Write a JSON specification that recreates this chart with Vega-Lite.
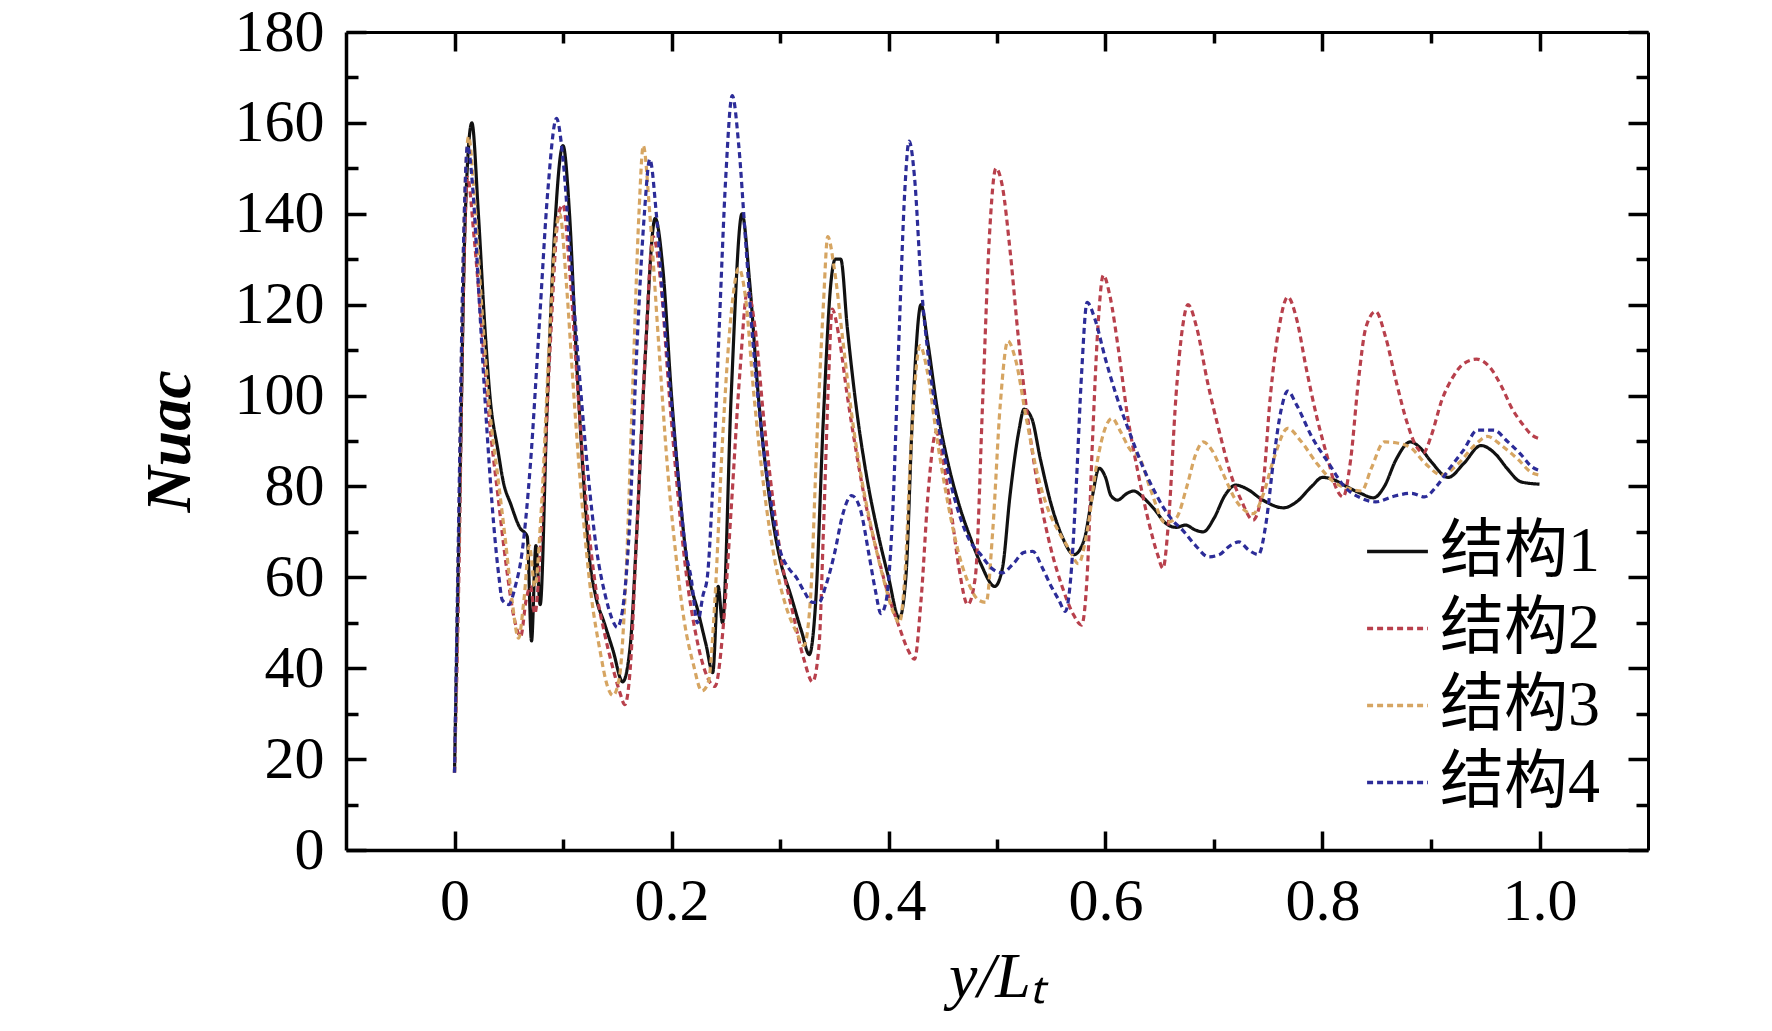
{
  "$schema": "https://vega.github.io/schema/vega-lite/v6.json",
  "autosize": {"type": "none"},
  "padding": {"left": 346, "top": 32, "right": 124, "bottom": 181},
  "width": 1302,
  "height": 818,
  "background": "white",
  "config": {
    "view": {"stroke": null},
    "font": "Liberation Serif",
    "axis": {
      "grid": false,
      "domain": true,
      "domainColor": "black",
      "domainWidth": 3.5,
      "tickColor": "black",
      "tickWidth": 3.5,
      "labelColor": "black",
      "labelFont": "Liberation Serif",
      "labelFontSize": 60,
      "titleColor": "black",
      "titleFont": "Liberation Serif",
      "titleFontSize": 64
    },
    "legend": {
      "orient": "none",
      "legendX": 1019,
      "legendY": 487,
      "symbolType": "stroke",
      "symbolSize": 3700,
      "symbolStrokeWidth": 3.5,
      "labelFont": "Liberation Serif, Noto Sans CJK SC",
      "labelFontSize": 64,
      "labelColor": "black",
      "labelOffset": 10,
      "rowPadding": 12,
      "padding": 0
    }
  },
  "data": {
    "values": [
      {"s":"结构1","x":0,"y":17},{"s":"结构1","x":0.005,"y":80},{"s":"结构1","x":0.01,"y":140},{"s":"结构1","x":0.016,"y":160},{"s":"结构1","x":0.022,"y":140},{"s":"结构1","x":0.028,"y":115},{"s":"结构1","x":0.033,"y":99},{"s":"结构1","x":0.04,"y":88},{"s":"结构1","x":0.045,"y":81},{"s":"结构1","x":0.052,"y":76},{"s":"结构1","x":0.06,"y":71},{"s":"结构1","x":0.067,"y":69},{"s":"结构1","x":0.071,"y":46},{"s":"结构1","x":0.075,"y":67},{"s":"结构1","x":0.079,"y":54},{"s":"结构1","x":0.085,"y":95},{"s":"结构1","x":0.092,"y":135},{"s":"结构1","x":0.1,"y":155},{"s":"结构1","x":0.106,"y":140},{"s":"结构1","x":0.112,"y":110},{"s":"结构1","x":0.118,"y":85},{"s":"结构1","x":0.124,"y":65},{"s":"结构1","x":0.13,"y":56},{"s":"结构1","x":0.138,"y":50},{"s":"结构1","x":0.146,"y":44},{"s":"结构1","x":0.155,"y":37},{"s":"结构1","x":0.162,"y":45},{"s":"结构1","x":0.168,"y":70},{"s":"结构1","x":0.175,"y":105},{"s":"结构1","x":0.185,"y":139},{"s":"结构1","x":0.192,"y":128},{"s":"结构1","x":0.2,"y":100},{"s":"结构1","x":0.207,"y":80},{"s":"结构1","x":0.215,"y":62},{"s":"结构1","x":0.225,"y":52},{"s":"结构1","x":0.232,"y":45},{"s":"结构1","x":0.238,"y":39},{"s":"结构1","x":0.243,"y":58},{"s":"结构1","x":0.247,"y":50},{"s":"结构1","x":0.255,"y":100},{"s":"结构1","x":0.265,"y":140},{"s":"结构1","x":0.272,"y":125},{"s":"结构1","x":0.28,"y":100},{"s":"结构1","x":0.29,"y":78},{"s":"结构1","x":0.3,"y":64},{"s":"结构1","x":0.31,"y":56},{"s":"结构1","x":0.32,"y":48},{"s":"结构1","x":0.327,"y":43},{"s":"结构1","x":0.333,"y":55},{"s":"结构1","x":0.34,"y":95},{"s":"结构1","x":0.347,"y":125},{"s":"结构1","x":0.351,"y":130},{"s":"结构1","x":0.356,"y":130},{"s":"结构1","x":0.362,"y":115},{"s":"结构1","x":0.37,"y":98},{"s":"结构1","x":0.38,"y":82},{"s":"结构1","x":0.39,"y":70},{"s":"结构1","x":0.4,"y":60},{"s":"结构1","x":0.41,"y":51},{"s":"结构1","x":0.416,"y":60},{"s":"结构1","x":0.422,"y":95},{"s":"结构1","x":0.43,"y":120},{"s":"结构1","x":0.436,"y":112},{"s":"结构1","x":0.445,"y":97},{"s":"结构1","x":0.455,"y":85},{"s":"结构1","x":0.465,"y":76},{"s":"结构1","x":0.475,"y":69},{"s":"结构1","x":0.485,"y":63},{"s":"结构1","x":0.498,"y":58},{"s":"结构1","x":0.505,"y":62},{"s":"结构1","x":0.512,"y":78},{"s":"结构1","x":0.52,"y":92},{"s":"结构1","x":0.525,"y":97},{"s":"结构1","x":0.532,"y":95},{"s":"结构1","x":0.54,"y":86},{"s":"结构1","x":0.55,"y":76},{"s":"结构1","x":0.56,"y":69},{"s":"结构1","x":0.571,"y":65},{"s":"结构1","x":0.58,"y":68},{"s":"结构1","x":0.588,"y":78},{"s":"结构1","x":0.594,"y":84},{"s":"结构1","x":0.6,"y":82},{"s":"结构1","x":0.605,"y":78},{"s":"结构1","x":0.611,"y":77},{"s":"结构1","x":0.62,"y":78.5},{"s":"结构1","x":0.626,"y":79},{"s":"结构1","x":0.635,"y":77.5},{"s":"结构1","x":0.645,"y":75},{"s":"结构1","x":0.655,"y":72},{"s":"结构1","x":0.665,"y":71},{"s":"结构1","x":0.674,"y":71.5},{"s":"结构1","x":0.682,"y":70.5},{"s":"结构1","x":0.69,"y":70},{"s":"结构1","x":0.7,"y":73},{"s":"结构1","x":0.71,"y":78},{"s":"结构1","x":0.72,"y":80.3},{"s":"结构1","x":0.73,"y":79.5},{"s":"结构1","x":0.745,"y":77},{"s":"结构1","x":0.764,"y":75.3},{"s":"结构1","x":0.776,"y":76.6},{"s":"结构1","x":0.79,"y":80},{"s":"结构1","x":0.8,"y":82},{"s":"结构1","x":0.81,"y":81.5},{"s":"结构1","x":0.822,"y":80},{"s":"结构1","x":0.835,"y":78.5},{"s":"结构1","x":0.847,"y":77.5},{"s":"结构1","x":0.857,"y":80},{"s":"结构1","x":0.868,"y":86},{"s":"结构1","x":0.881,"y":89.8},{"s":"结构1","x":0.89,"y":88.5},{"s":"结构1","x":0.9,"y":85.5},{"s":"结构1","x":0.916,"y":82},{"s":"结构1","x":0.93,"y":85},{"s":"结构1","x":0.946,"y":89},{"s":"结构1","x":0.96,"y":87},{"s":"结构1","x":0.97,"y":84},{"s":"结构1","x":0.983,"y":81},{"s":"结构1","x":1.0,"y":80.5},

      {"s":"结构2","x":0,"y":17},{"s":"结构2","x":0.004,"y":60},{"s":"结构2","x":0.008,"y":120},{"s":"结构2","x":0.012,"y":148},{"s":"结构2","x":0.018,"y":135},{"s":"结构2","x":0.025,"y":115},{"s":"结构2","x":0.032,"y":95},{"s":"结构2","x":0.04,"y":78},{"s":"结构2","x":0.048,"y":62},{"s":"结构2","x":0.055,"y":51},{"s":"结构2","x":0.061,"y":47},{"s":"结构2","x":0.066,"y":55},{"s":"结构2","x":0.07,"y":58},{"s":"结构2","x":0.074,"y":52},{"s":"结构2","x":0.08,"y":70},{"s":"结构2","x":0.088,"y":110},{"s":"结构2","x":0.096,"y":140},{"s":"结构2","x":0.1,"y":142},{"s":"结构2","x":0.106,"y":128},{"s":"结构2","x":0.114,"y":100},{"s":"结构2","x":0.122,"y":75},{"s":"结构2","x":0.13,"y":58},{"s":"结构2","x":0.138,"y":48},{"s":"结构2","x":0.146,"y":40},{"s":"结构2","x":0.152,"y":35},{"s":"结构2","x":0.157,"y":32},{"s":"结构2","x":0.162,"y":40},{"s":"结构2","x":0.168,"y":70},{"s":"结构2","x":0.176,"y":110},{"s":"结构2","x":0.183,"y":135},{"s":"结构2","x":0.19,"y":125},{"s":"结构2","x":0.198,"y":100},{"s":"结构2","x":0.206,"y":78},{"s":"结构2","x":0.214,"y":60},{"s":"结构2","x":0.222,"y":48},{"s":"结构2","x":0.23,"y":40},{"s":"结构2","x":0.24,"y":36},{"s":"结构2","x":0.248,"y":50},{"s":"结构2","x":0.255,"y":75},{"s":"结构2","x":0.263,"y":105},{"s":"结构2","x":0.27,"y":123},{"s":"结构2","x":0.277,"y":115},{"s":"结构2","x":0.285,"y":95},{"s":"结构2","x":0.293,"y":78},{"s":"结构2","x":0.302,"y":63},{"s":"结构2","x":0.312,"y":52},{"s":"结构2","x":0.322,"y":42},{"s":"结构2","x":0.33,"y":37},{"s":"结构2","x":0.336,"y":45},{"s":"结构2","x":0.34,"y":70},{"s":"结构2","x":0.345,"y":105},{"s":"结构2","x":0.348,"y":119},{"s":"结构2","x":0.355,"y":112},{"s":"结构2","x":0.362,"y":100},{"s":"结构2","x":0.37,"y":88},{"s":"结构2","x":0.38,"y":75},{"s":"结构2","x":0.39,"y":65},{"s":"结构2","x":0.4,"y":56},{"s":"结构2","x":0.41,"y":49},{"s":"结构2","x":0.418,"y":44},{"s":"结构2","x":0.424,"y":42},{"s":"结构2","x":0.43,"y":55},{"s":"结构2","x":0.437,"y":80},{"s":"结构2","x":0.444,"y":92},{"s":"结构2","x":0.45,"y":86},{"s":"结构2","x":0.458,"y":74},{"s":"结构2","x":0.465,"y":62},{"s":"结构2","x":0.473,"y":54},{"s":"结构2","x":0.48,"y":60},{"s":"结构2","x":0.487,"y":100},{"s":"结构2","x":0.493,"y":135},{"s":"结构2","x":0.499,"y":150},{"s":"结构2","x":0.505,"y":146},{"s":"结构2","x":0.512,"y":132},{"s":"结构2","x":0.52,"y":112},{"s":"结构2","x":0.53,"y":92},{"s":"结构2","x":0.54,"y":77},{"s":"结构2","x":0.55,"y":66},{"s":"结构2","x":0.56,"y":58},{"s":"结构2","x":0.57,"y":52},{"s":"结构2","x":0.578,"y":49.5},{"s":"结构2","x":0.583,"y":60},{"s":"结构2","x":0.588,"y":90},{"s":"结构2","x":0.593,"y":115},{"s":"结构2","x":0.598,"y":126.5},{"s":"结构2","x":0.604,"y":122},{"s":"结构2","x":0.612,"y":110},{"s":"结构2","x":0.62,"y":96},{"s":"结构2","x":0.63,"y":83},{"s":"结构2","x":0.64,"y":72},{"s":"结构2","x":0.648,"y":65},{"s":"结构2","x":0.653,"y":62},{"s":"结构2","x":0.658,"y":72},{"s":"结构2","x":0.665,"y":100},{"s":"结构2","x":0.671,"y":115},{"s":"结构2","x":0.676,"y":120},{"s":"结构2","x":0.684,"y":115},{"s":"结构2","x":0.694,"y":103},{"s":"结构2","x":0.705,"y":92},{"s":"结构2","x":0.715,"y":83},{"s":"结构2","x":0.725,"y":77},{"s":"结构2","x":0.736,"y":72.6},{"s":"结构2","x":0.745,"y":80},{"s":"结构2","x":0.752,"y":100},{"s":"结构2","x":0.76,"y":115},{"s":"结构2","x":0.768,"y":121.7},{"s":"结构2","x":0.776,"y":117},{"s":"结构2","x":0.785,"y":106},{"s":"结构2","x":0.795,"y":95},{"s":"结构2","x":0.805,"y":86},{"s":"结构2","x":0.812,"y":80},{"s":"结构2","x":0.819,"y":77.7},{"s":"结构2","x":0.826,"y":86},{"s":"结构2","x":0.833,"y":103},{"s":"结构2","x":0.84,"y":115},{"s":"结构2","x":0.849,"y":118.5},{"s":"结构2","x":0.858,"y":113},{"s":"结构2","x":0.868,"y":103},{"s":"结构2","x":0.878,"y":94},{"s":"结构2","x":0.886,"y":89},{"s":"结构2","x":0.893,"y":87.4},{"s":"结构2","x":0.9,"y":91},{"s":"结构2","x":0.91,"y":99},{"s":"结构2","x":0.92,"y":104},{"s":"结构2","x":0.93,"y":107},{"s":"结构2","x":0.942,"y":108},{"s":"结构2","x":0.955,"y":106},{"s":"结构2","x":0.965,"y":102},{"s":"结构2","x":0.975,"y":97},{"s":"结构2","x":0.985,"y":93.5},{"s":"结构2","x":0.993,"y":91.3},{"s":"结构2","x":1.0,"y":90.5},

      {"s":"结构3","x":0,"y":17},{"s":"结构3","x":0.004,"y":70},{"s":"结构3","x":0.008,"y":130},{"s":"结构3","x":0.013,"y":157},{"s":"结构3","x":0.018,"y":145},{"s":"结构3","x":0.025,"y":120},{"s":"结构3","x":0.032,"y":98},{"s":"结构3","x":0.04,"y":82},{"s":"结构3","x":0.047,"y":68},{"s":"结构3","x":0.053,"y":55},{"s":"结构3","x":0.059,"y":46.6},{"s":"结构3","x":0.064,"y":55},{"s":"结构3","x":0.069,"y":67},{"s":"结构3","x":0.074,"y":58},{"s":"结构3","x":0.08,"y":75},{"s":"结构3","x":0.087,"y":110},{"s":"结构3","x":0.093,"y":135},{"s":"结构3","x":0.097,"y":140},{"s":"结构3","x":0.103,"y":125},{"s":"结构3","x":0.11,"y":100},{"s":"结构3","x":0.118,"y":75},{"s":"结构3","x":0.126,"y":56},{"s":"结构3","x":0.134,"y":44},{"s":"结构3","x":0.141,"y":36},{"s":"结构3","x":0.146,"y":34},{"s":"结构3","x":0.152,"y":38},{"s":"结构3","x":0.158,"y":60},{"s":"结构3","x":0.164,"y":100},{"s":"结构3","x":0.17,"y":140},{"s":"结构3","x":0.174,"y":155},{"s":"结构3","x":0.18,"y":140},{"s":"结构3","x":0.188,"y":112},{"s":"结构3","x":0.196,"y":85},{"s":"结构3","x":0.204,"y":65},{"s":"结构3","x":0.212,"y":50},{"s":"结构3","x":0.22,"y":41},{"s":"结构3","x":0.228,"y":35},{"s":"结构3","x":0.234,"y":37},{"s":"结构3","x":0.24,"y":55},{"s":"结构3","x":0.247,"y":90},{"s":"结构3","x":0.255,"y":118},{"s":"结构3","x":0.262,"y":128},{"s":"结构3","x":0.268,"y":122},{"s":"结构3","x":0.276,"y":100},{"s":"结构3","x":0.285,"y":80},{"s":"结构3","x":0.295,"y":64},{"s":"结构3","x":0.305,"y":54},{"s":"结构3","x":0.315,"y":48},{"s":"结构3","x":0.322,"y":45},{"s":"结构3","x":0.328,"y":55},{"s":"结构3","x":0.334,"y":90},{"s":"结构3","x":0.34,"y":120},{"s":"结构3","x":0.344,"y":135},{"s":"结构3","x":0.35,"y":128},{"s":"结构3","x":0.358,"y":112},{"s":"结构3","x":0.366,"y":96},{"s":"结构3","x":0.375,"y":82},{"s":"结构3","x":0.385,"y":70},{"s":"结构3","x":0.395,"y":60},{"s":"结构3","x":0.405,"y":52},{"s":"结构3","x":0.41,"y":50},{"s":"结构3","x":0.415,"y":60},{"s":"结构3","x":0.421,"y":90},{"s":"结构3","x":0.429,"y":111},{"s":"结构3","x":0.436,"y":105},{"s":"结构3","x":0.445,"y":90},{"s":"结构3","x":0.455,"y":76},{"s":"结构3","x":0.465,"y":65},{"s":"结构3","x":0.475,"y":58},{"s":"结构3","x":0.483,"y":55},{"s":"结构3","x":0.49,"y":54.5},{"s":"结构3","x":0.496,"y":70},{"s":"结构3","x":0.503,"y":98},{"s":"结构3","x":0.51,"y":112},{"s":"结构3","x":0.517,"y":108},{"s":"结构3","x":0.527,"y":95},{"s":"结构3","x":0.537,"y":83},{"s":"结构3","x":0.547,"y":75},{"s":"结构3","x":0.557,"y":70},{"s":"结构3","x":0.567,"y":66},{"s":"结构3","x":0.575,"y":63},{"s":"结构3","x":0.583,"y":70},{"s":"结构3","x":0.592,"y":85},{"s":"结构3","x":0.6,"y":93},{"s":"结构3","x":0.606,"y":95},{"s":"结构3","x":0.614,"y":92},{"s":"结构3","x":0.623,"y":88},{"s":"结构3","x":0.631,"y":86.5},{"s":"结构3","x":0.642,"y":79},{"s":"结构3","x":0.655,"y":72},{"s":"结构3","x":0.665,"y":73},{"s":"结构3","x":0.675,"y":80},{"s":"结构3","x":0.683,"y":87},{"s":"结构3","x":0.69,"y":89.8},{"s":"结构3","x":0.698,"y":88},{"s":"结构3","x":0.708,"y":83},{"s":"结构3","x":0.72,"y":77},{"s":"结构3","x":0.736,"y":74},{"s":"结构3","x":0.745,"y":78},{"s":"结构3","x":0.755,"y":86},{"s":"结构3","x":0.768,"y":92.8},{"s":"结构3","x":0.78,"y":90},{"s":"结构3","x":0.795,"y":85},{"s":"结构3","x":0.812,"y":80.7},{"s":"结构3","x":0.825,"y":79.5},{"s":"结构3","x":0.836,"y":79},{"s":"结构3","x":0.845,"y":84},{"s":"结构3","x":0.857,"y":89.8},{"s":"结构3","x":0.87,"y":89.5},{"s":"结构3","x":0.882,"y":88.4},{"s":"结构3","x":0.895,"y":85},{"s":"结构3","x":0.91,"y":82.5},{"s":"结构3","x":0.925,"y":85},{"s":"结构3","x":0.94,"y":89},{"s":"结构3","x":0.952,"y":91},{"s":"结构3","x":0.965,"y":89},{"s":"结构3","x":0.98,"y":86},{"s":"结构3","x":0.993,"y":83},{"s":"结构3","x":1.0,"y":82.5},

      {"s":"结构4","x":0,"y":17},{"s":"结构4","x":0.004,"y":75},{"s":"结构4","x":0.008,"y":130},{"s":"结构4","x":0.012,"y":155},{"s":"结构4","x":0.017,"y":145},{"s":"结构4","x":0.023,"y":120},{"s":"结构4","x":0.03,"y":92},{"s":"结构4","x":0.036,"y":72},{"s":"结构4","x":0.041,"y":60},{"s":"结构4","x":0.044,"y":55},{"s":"结构4","x":0.05,"y":54},{"s":"结构4","x":0.056,"y":58},{"s":"结构4","x":0.062,"y":65},{"s":"结构4","x":0.07,"y":85},{"s":"结构4","x":0.078,"y":115},{"s":"结构4","x":0.086,"y":145},{"s":"结构4","x":0.094,"y":161},{"s":"结构4","x":0.1,"y":152},{"s":"结构4","x":0.107,"y":130},{"s":"结构4","x":0.115,"y":105},{"s":"结构4","x":0.123,"y":83},{"s":"结构4","x":0.131,"y":66},{"s":"结构4","x":0.139,"y":56},{"s":"结构4","x":0.145,"y":51},{"s":"结构4","x":0.15,"y":49},{"s":"结构4","x":0.155,"y":53},{"s":"结构4","x":0.161,"y":70},{"s":"结构4","x":0.168,"y":110},{"s":"结构4","x":0.175,"y":140},{"s":"结构4","x":0.18,"y":152},{"s":"结构4","x":0.186,"y":140},{"s":"结构4","x":0.193,"y":118},{"s":"结构4","x":0.2,"y":98},{"s":"结构4","x":0.207,"y":80},{"s":"结构4","x":0.213,"y":66},{"s":"结构4","x":0.218,"y":60},{"s":"结构4","x":0.224,"y":50},{"s":"结构4","x":0.229,"y":56},{"s":"结构4","x":0.233,"y":60},{"s":"结构4","x":0.238,"y":80},{"s":"结构4","x":0.244,"y":115},{"s":"结构4","x":0.25,"y":148},{"s":"结构4","x":0.256,"y":166},{"s":"结构4","x":0.262,"y":155},{"s":"结构4","x":0.268,"y":135},{"s":"结构4","x":0.275,"y":112},{"s":"结构4","x":0.283,"y":92},{"s":"结构4","x":0.292,"y":76},{"s":"结构4","x":0.3,"y":66},{"s":"结构4","x":0.308,"y":62},{"s":"结构4","x":0.315,"y":60},{"s":"结构4","x":0.322,"y":57},{"s":"结构4","x":0.33,"y":54.5},{"s":"结构4","x":0.336,"y":54.5},{"s":"结构4","x":0.342,"y":58},{"s":"结构4","x":0.35,"y":65},{"s":"结构4","x":0.358,"y":74},{"s":"结构4","x":0.366,"y":78},{"s":"结构4","x":0.374,"y":75},{"s":"结构4","x":0.382,"y":65},{"s":"结构4","x":0.388,"y":57},{"s":"结构4","x":0.393,"y":52},{"s":"结构4","x":0.398,"y":55},{"s":"结构4","x":0.404,"y":75},{"s":"结构4","x":0.41,"y":115},{"s":"结构4","x":0.415,"y":145},{"s":"结构4","x":0.419,"y":156},{"s":"结构4","x":0.424,"y":148},{"s":"结构4","x":0.43,"y":125},{"s":"结构4","x":0.437,"y":108},{"s":"结构4","x":0.445,"y":95},{"s":"结构4","x":0.455,"y":83},{"s":"结构4","x":0.465,"y":74},{"s":"结构4","x":0.475,"y":68},{"s":"结构4","x":0.485,"y":65},{"s":"结构4","x":0.495,"y":62},{"s":"结构4","x":0.505,"y":61},{"s":"结构4","x":0.515,"y":63},{"s":"结构4","x":0.525,"y":65.5},{"s":"结构4","x":0.533,"y":65.7},{"s":"结构4","x":0.542,"y":62},{"s":"结构4","x":0.55,"y":58},{"s":"结构4","x":0.557,"y":55},{"s":"结构4","x":0.563,"y":52.5},{"s":"结构4","x":0.568,"y":60},{"s":"结构4","x":0.573,"y":80},{"s":"结构4","x":0.578,"y":105},{"s":"结构4","x":0.583,"y":120.5},{"s":"结构4","x":0.59,"y":117},{"s":"结构4","x":0.6,"y":108},{"s":"结构4","x":0.61,"y":100},{"s":"结构4","x":0.622,"y":92},{"s":"结构4","x":0.635,"y":84},{"s":"结构4","x":0.645,"y":79},{"s":"结构4","x":0.653,"y":75.5},{"s":"结构4","x":0.662,"y":72.5},{"s":"结构4","x":0.671,"y":70.4},{"s":"结构4","x":0.683,"y":67},{"s":"结构4","x":0.695,"y":64.5},{"s":"结构4","x":0.705,"y":65},{"s":"结构4","x":0.715,"y":67},{"s":"结构4","x":0.723,"y":67.8},{"s":"结构4","x":0.732,"y":66},{"s":"结构4","x":0.741,"y":65},{"s":"结构4","x":0.748,"y":72},{"s":"结构4","x":0.755,"y":86},{"s":"结构4","x":0.762,"y":97},{"s":"结构4","x":0.768,"y":101},{"s":"结构4","x":0.776,"y":98},{"s":"结构4","x":0.79,"y":91},{"s":"结构4","x":0.806,"y":85},{"s":"结构4","x":0.82,"y":80},{"s":"结构4","x":0.835,"y":77.5},{"s":"结构4","x":0.849,"y":76.6},{"s":"结构4","x":0.865,"y":77.8},{"s":"结构4","x":0.882,"y":78.5},{"s":"结构4","x":0.894,"y":77.7},{"s":"结构4","x":0.905,"y":80},{"s":"结构4","x":0.916,"y":83.6},{"s":"结构4","x":0.93,"y":88},{"s":"结构4","x":0.943,"y":92.4},{"s":"结构4","x":0.958,"y":92.4},{"s":"结构4","x":0.97,"y":90},{"s":"结构4","x":0.983,"y":87},{"s":"结构4","x":0.993,"y":84.3},{"s":"结构4","x":1.0,"y":83.5}
    ]
  },
  "layer": [
    {
      "mark": {"type": "line", "strokeWidth": 3.2, "clip": true, "interpolate": "monotone"},
      "encoding": {
        "x": {
          "field": "x",
          "type": "quantitative",
          "scale": {"domain": [-0.1, 1.1], "nice": false, "zero": false},
          "axis": {
            "orient": "bottom",
            "values": [0, 0.1, 0.2, 0.3, 0.4, 0.5, 0.6, 0.7, 0.8, 0.9, 1.0],
            "labelExpr": "datum.value == 0 ? '0' : (round(datum.value * 10) % 2 == 0 ? format(datum.value, '.1f') : '')",
            "tickSize": {"condition": {"test": "round(datum.value * 10) % 2 == 1", "value": -11}, "value": -19},
            "labelPadding": 41,
            "title": "y/Lₜ",
            "titleFontStyle": "italic",
            "titleFontWeight": "normal",
            "titlePadding": 14
          }
        },
        "y": {
          "field": "y",
          "type": "quantitative",
          "scale": {"domain": [0, 180], "nice": false},
          "axis": {
            "orient": "left",
            "values": [0, 10, 20, 30, 40, 50, 60, 70, 80, 90, 100, 110, 120, 130, 140, 150, 160, 170, 180],
            "labelExpr": "datum.value % 20 == 0 ? datum.label : ''",
            "tickSize": {"condition": {"test": "datum.value % 20 != 0", "value": -12}, "value": -20},
            "labelPadding": 42,
            "title": "Nuac",
            "titleFontStyle": "italic",
            "titleFontWeight": "bold",
            "titlePadding": 32
          }
        },
        "color": {
          "field": "s",
          "type": "nominal",
          "title": null,
          "scale": {"domain": ["结构1", "结构2", "结构3", "结构4"], "range": ["#111111", "#b8404c", "#d6a562", "#2c2c98"]}
        },
        "strokeDash": {
          "field": "s",
          "type": "nominal",
          "title": null,
          "scale": {"domain": ["结构1", "结构2", "结构3", "结构4"], "range": [[1, 0], [6, 4], [6, 4], [6, 4]]}
        }
      }
    },
    {
      "mark": {"type": "line", "strokeOpacity": 0},
      "encoding": {
        "x": {
          "field": "x",
          "type": "quantitative",
          "axis": {
            "orient": "top",
            "values": [0, 0.1, 0.2, 0.3, 0.4, 0.5, 0.6, 0.7, 0.8, 0.9, 1.0],
            "labels": false,
            "title": null,
            "domainWidth": 3,
            "tickSize": {"condition": {"test": "round(datum.value * 10) % 2 == 1", "value": -11}, "value": -19}
          }
        },
        "y": {
          "field": "y",
          "type": "quantitative",
          "axis": {
            "orient": "right",
            "values": [0, 10, 20, 30, 40, 50, 60, 70, 80, 90, 100, 110, 120, 130, 140, 150, 160, 170, 180],
            "labels": false,
            "title": null,
            "domainWidth": 3,
            "tickSize": {"condition": {"test": "datum.value % 20 != 0", "value": -12}, "value": -20}
          }
        }
      }
    }
  ],
  "resolve": {"axis": {"x": "independent", "y": "independent"}}
}
